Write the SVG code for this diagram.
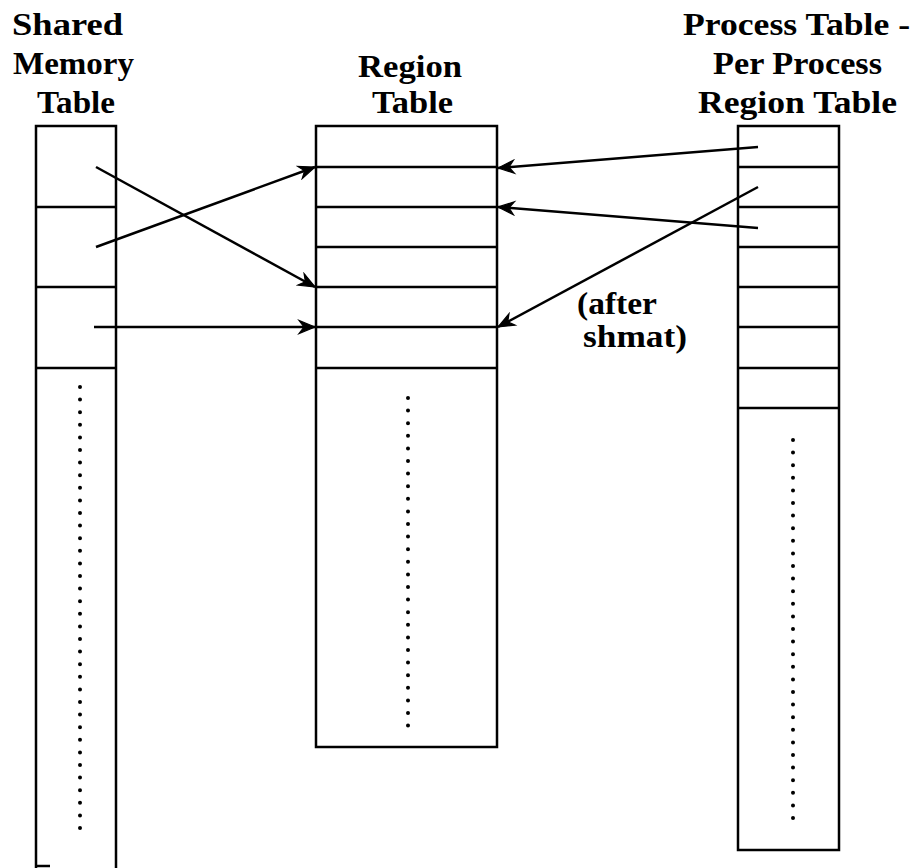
<svg xmlns="http://www.w3.org/2000/svg" width="914" height="868" viewBox="0 0 914 868">
<style>
.box{fill:none;stroke:#000;stroke-width:2.5}
.row{stroke:#000;stroke-width:2.5}
.dots{stroke:#000;stroke-width:4;stroke-linecap:round;stroke-dasharray:0 12.6}
.lbl{font-family:"Liberation Serif",serif;font-size:32px;font-weight:bold;fill:#000}
.conn{stroke:#000;stroke-width:2.5;fill:none;marker-end:url(#ah)}
</style>
<defs>
<marker id="ah" markerUnits="userSpaceOnUse" viewBox="-18 -8 20 16" refX="0" refY="0" markerWidth="20" markerHeight="16" orient="auto">
<path d="M0,0 L-16,-6.5 L-11,0 L-16,6.5 Z" fill="#000" stroke="#000" stroke-width="1.2" stroke-linejoin="miter"/>
</marker>
</defs>
<rect width="914" height="868" fill="#fff"/>
<g id="shm-table">
<text class="lbl" x="12" y="35" textLength="111" lengthAdjust="spacingAndGlyphs">Shared</text>
<text class="lbl" x="13" y="74" textLength="121" lengthAdjust="spacingAndGlyphs">Memory</text>
<text class="lbl" x="37" y="113" textLength="78" lengthAdjust="spacingAndGlyphs">Table</text>
<path class="box" d="M36,868 V126 H116 V868"/>
<path class="row" d="M36,866 H50"/>
<line class="row" x1="36" y1="207" x2="116" y2="207"/>
<line class="row" x1="36" y1="287" x2="116" y2="287"/>
<line class="row" x1="36" y1="368" x2="116" y2="368"/>
<line class="dots" x1="80" y1="387" x2="80" y2="832"/>
</g>
<g id="region-table">
<text class="lbl" x="358" y="77" textLength="104" lengthAdjust="spacingAndGlyphs">Region</text>
<text class="lbl" x="372" y="113" textLength="81" lengthAdjust="spacingAndGlyphs">Table</text>
<rect class="box" x="316" y="126" width="181" height="621"/>
<line class="row" x1="316" y1="167" x2="497" y2="167"/>
<line class="row" x1="316" y1="207" x2="497" y2="207"/>
<line class="row" x1="316" y1="247" x2="497" y2="247"/>
<line class="row" x1="316" y1="287" x2="497" y2="287"/>
<line class="row" x1="316" y1="327" x2="497" y2="327"/>
<line class="row" x1="316" y1="368" x2="497" y2="368"/>
<line class="dots" x1="408" y1="398" x2="408" y2="727"/>
</g>
<g id="process-table">
<text class="lbl" x="683" y="35" textLength="227" lengthAdjust="spacingAndGlyphs">Process Table -</text>
<text class="lbl" x="713" y="74" textLength="169" lengthAdjust="spacingAndGlyphs">Per Process</text>
<text class="lbl" x="698" y="113" textLength="199" lengthAdjust="spacingAndGlyphs">Region Table</text>
<rect class="box" x="738" y="126" width="101" height="724"/>
<line class="row" x1="738" y1="167" x2="839" y2="167"/>
<line class="row" x1="738" y1="207" x2="839" y2="207"/>
<line class="row" x1="738" y1="247" x2="839" y2="247"/>
<line class="row" x1="738" y1="287" x2="839" y2="287"/>
<line class="row" x1="738" y1="327" x2="839" y2="327"/>
<line class="row" x1="738" y1="368" x2="839" y2="368"/>
<line class="row" x1="738" y1="408" x2="839" y2="408"/>
<line class="dots" x1="793" y1="440" x2="793" y2="830"/>
</g>
<g id="connectors">
<line class="conn" x1="96" y1="167" x2="315" y2="287"/>
<line class="conn" x1="96" y1="247" x2="315" y2="167"/>
<line class="conn" x1="94" y1="327" x2="315" y2="327"/>
<line class="conn" x1="758" y1="147" x2="498" y2="168"/>
<line class="conn" x1="758" y1="228" x2="498" y2="207"/>
<line class="conn" x1="758" y1="187" x2="498" y2="327"/>
<text class="lbl" x="577" y="314" textLength="80" lengthAdjust="spacingAndGlyphs">(after</text>
<text class="lbl" x="583" y="347" textLength="104" lengthAdjust="spacingAndGlyphs">shmat)</text>
</g>
</svg>
